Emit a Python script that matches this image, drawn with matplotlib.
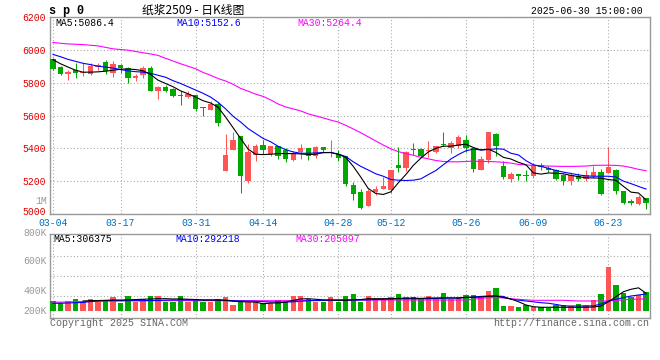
import numpy as np
import matplotlib
matplotlib.use('Agg')
import matplotlib.pyplot as plt
from matplotlib.transforms import ScaledTranslation

plt.rcParams['font.family'] = ['Liberation Mono', 'DejaVu Sans']

# trading days 2025-03-04 .. 2025-06-30
dates = ['03-04', '03-05', '03-06', '03-07', '03-10', '03-11', '03-12', '03-13', '03-14', '03-17',
         '03-18', '03-19', '03-20', '03-21', '03-24', '03-25', '03-26', '03-27', '03-28', '03-31',
         '04-01', '04-02', '04-03', '04-07', '04-08', '04-09', '04-10', '04-11', '04-14', '04-15',
         '04-16', '04-17', '04-18', '04-21', '04-22', '04-23', '04-24', '04-25', '04-28', '04-29',
         '04-30', '05-06', '05-07', '05-08', '05-09', '05-12', '05-13', '05-14', '05-15', '05-16',
         '05-19', '05-20', '05-21', '05-22', '05-23', '05-26', '05-27', '05-28', '05-29', '05-30',
         '06-03', '06-04', '06-05', '06-06', '06-09', '06-10', '06-11', '06-12', '06-13', '06-16',
         '06-17', '06-18', '06-19', '06-20', '06-23', '06-24', '06-25', '06-26', '06-27', '06-30']
tick_dates = ['03-04', '03-17', '03-31', '04-14', '04-28', '05-12', '05-26', '06-09', '06-23']

open_ = [5944, 5897, 5852, 5879, 5858, 5853, 5893, 5923, 5860, 5908,
         5889, 5830, 5848, 5889, 5747, 5771, 5759, 5722, 5713, 5722,
         5652, 5636, 5672, 5261, 5388, 5478, 5200, 5362, 5423, 5368,
         5417, 5388, 5328, 5376, 5399, 5352, 5407, 5374, 5368, 5356,
         5176, 5133, 5048, 5133, 5154, 5147, 5301, 5281, 5394, 5397,
         5386, 5378, 5427, 5403, 5417, 5453, 5403, 5271, 5328, 5490,
         5295, 5216, 5245, 5235, 5230, 5301, 5281, 5265, 5235, 5200,
         5230, 5214, 5230, 5257, 5247, 5265, 5143, 5078, 5058, 5099]
high = [5950, 5900, 5880, 5919, 5917, 5917, 5919, 5937, 5931, 5916,
        5895, 5852, 5899, 5899, 5777, 5787, 5767, 5747, 5751, 5727,
        5652, 5690, 5680, 5490, 5498, 5478, 5429, 5429, 5453, 5417,
        5417, 5403, 5386, 5429, 5399, 5415, 5407, 5449, 5390, 5356,
        5194, 5154, 5155, 5170, 5224, 5271, 5406, 5382, 5431, 5400,
        5443, 5413, 5498, 5447, 5484, 5484, 5407, 5352, 5500, 5494,
        5321, 5255, 5245, 5271, 5311, 5311, 5292, 5275, 5241, 5251,
        5251, 5265, 5290, 5275, 5407, 5275, 5143, 5090, 5115, 5099]
low = [5876, 5846, 5814, 5826, 5838, 5848, 5879, 5855, 5832, 5858,
       5798, 5812, 5828, 5747, 5702, 5741, 5714, 5662, 5707, 5630,
       5595, 5635, 5534, 5261, 5388, 5125, 5190, 5321, 5368, 5355,
       5336, 5315, 5321, 5332, 5328, 5342, 5375, 5348, 5324, 5170,
       5083, 5028, 5048, 5115, 5154, 5130, 5253, 5261, 5359, 5350,
       5346, 5372, 5413, 5372, 5403, 5376, 5255, 5265, 5310, 5356,
       5214, 5194, 5210, 5200, 5220, 5270, 5255, 5208, 5174, 5176,
       5200, 5200, 5220, 5115, 5247, 5119, 5058, 5052, 5052, 5028]
close = [5883, 5850, 5862, 5858, 5866, 5900, 5906, 5869, 5915, 5890,
         5828, 5838, 5889, 5747, 5775, 5752, 5716, 5716, 5729, 5641,
         5643, 5672, 5552, 5362, 5453, 5230, 5376, 5417, 5392, 5415,
         5356, 5332, 5372, 5399, 5352, 5407, 5390, 5378, 5342, 5180,
         5119, 5034, 5143, 5155, 5170, 5265, 5281, 5380, 5390, 5356,
         5392, 5413, 5419, 5433, 5467, 5403, 5273, 5332, 5498, 5413,
         5224, 5241, 5230, 5230, 5301, 5287, 5265, 5214, 5200, 5237,
         5214, 5237, 5257, 5119, 5287, 5139, 5068, 5070, 5103, 5064]

ma5 = [5940, 5915, 5895, 5876, 5864, 5864, 5866, 5870, 5876, 5882,
       5883, 5880, 5872, 5850, 5815, 5795, 5775, 5750, 5732, 5712,
       5690, 5676, 5650, 5590, 5525, 5460, 5395, 5364, 5362, 5364,
       5368, 5368, 5368, 5366, 5362, 5364, 5374, 5374, 5364, 5345,
       5290, 5225, 5155, 5125, 5119, 5135, 5190, 5240, 5296, 5340,
       5378, 5400, 5413, 5413, 5420, 5425, 5405, 5390, 5395, 5375,
       5345, 5335, 5315, 5300, 5250, 5243, 5250, 5248, 5245, 5235,
       5228, 5220, 5220, 5218, 5210, 5205, 5168, 5133, 5128, 5086]
ma10 = [5972, 5958, 5942, 5930, 5918, 5910, 5900, 5895, 5889, 5880,
        5872, 5867, 5864, 5857, 5845, 5833, 5812, 5795, 5775, 5755,
        5735, 5712, 5680, 5640, 5595, 5560, 5520, 5490, 5460, 5440,
        5412, 5392, 5378, 5370, 5370, 5372, 5374, 5375, 5365, 5350,
        5318, 5290, 5268, 5245, 5230, 5210, 5206, 5204, 5206, 5214,
        5240, 5265, 5300, 5335, 5362, 5385, 5395, 5390, 5393, 5397,
        5395, 5370, 5360, 5325, 5300, 5290, 5278, 5265, 5255, 5247,
        5238, 5232, 5230, 5230, 5230, 5225, 5200, 5185, 5168, 5152]
ma30 = [6045, 6040, 6036, 6034, 6032, 6028, 6024, 6015, 6006, 6002,
        5998, 5990, 5982, 5975, 5966, 5948, 5932, 5915, 5900, 5885,
        5862, 5845, 5825, 5810, 5790, 5765, 5748, 5730, 5716, 5695,
        5670, 5652, 5640, 5628, 5610, 5598, 5585, 5572, 5560, 5540,
        5518, 5495, 5470, 5445, 5420, 5397, 5380, 5368, 5358, 5345,
        5336, 5326, 5320, 5318, 5318, 5320, 5322, 5320, 5320, 5318,
        5315, 5310, 5302, 5299, 5296, 5294, 5292, 5291, 5290, 5290,
        5291, 5292, 5296, 5297, 5297, 5296, 5292, 5283, 5272, 5264]

# volume, thousands of lots
volume = [170, 128, 170, 205, 170, 205, 158, 187, 233, 128,
          257, 158, 205, 257, 257, 158, 158, 257, 158, 205,
          158, 158, 205, 233, 100, 158, 158, 158, 128, 128,
          187, 158, 257, 257, 205, 158, 158, 233, 158, 257,
          292, 158, 257, 205, 205, 233, 292, 233, 233, 205,
          257, 205, 315, 205, 233, 275, 275, 233, 350, 403,
          82, 82, 58, 100, 58, 58, 52, 94, 95, 90,
          117, 100, 187, 292, 770, 450, 315, 233, 275, 333]
vol_ma5 = [np.nan, np.nan, np.nan, np.nan, 170, 175, 178, 182, 187, 187,
           190, 195, 200, 205, 210, 210, 205, 205, 200, 195,
           187, 187, 187, 180, 165, 158, 155, 150, 120, 135,
           135, 150, 180, 205, 210, 200, 190, 187, 182, 182,
           190, 195, 210, 210, 210, 210, 215, 220, 220, 215,
           222, 222, 225, 225, 222, 234, 234, 240, 250, 257,
           230, 205, 158, 100, 70, 60, 60, 60, 60, 60,
           60, 60, 65, 82, 158, 245, 332, 375, 400, 306]
vol_ma10 = [130, 130, 135, 140, 145, 160, 170, 176, 176, 176,
            176, 176, 176, 178, 180, 185, 188, 188, 188, 188,
            188, 188, 188, 185, 175, 170, 168, 165, 158, 152,
            152, 152, 155, 165, 175, 178, 180, 185, 187, 187,
            187, 187, 190, 195, 200, 205, 208, 210, 210, 210,
            212, 215, 218, 220, 222, 230, 240, 250, 257, 257,
            250, 200, 185, 170, 155, 140, 130, 110, 85, 82,
            82, 82, 85, 117, 170, 200, 230, 257, 275, 292]
vol_ma30 = [147, 150, 153, 156, 160, 163, 165, 168, 170, 172,
            175, 175, 175, 175, 175, 175, 175, 175, 175, 175,
            175, 175, 175, 175, 175, 175, 175, 175, 175, 175,
            175, 176, 176, 177, 177, 178, 178, 180, 187, 187,
            187, 187, 187, 187, 187, 187, 187, 187, 187, 187,
            187, 187, 187, 187, 187, 187, 200, 215, 228, 228,
            225, 210, 200, 190, 182, 182, 182, 182, 182, 175,
            170, 170, 170, 170, 170, 180, 190, 200, 203, 205]

RED = '#ff5555'
GREEN = '#00a800'
GRID = '#aaaaaa'
BORDER = '#999999'

W, H = 660, 360
fig = plt.figure(figsize=(W / 100, H / 100), dpi=100)
fig.patch.set_facecolor('white')


def fx(px):
    return px / W


def fy(py):
    return 1 - py / H


ax = fig.add_axes([fx(50), fy(214), fx(600), 197 / H])
vax = fig.add_axes([fx(50), fy(318.3), fx(600), 84 / H])

x = np.arange(len(dates))
o = np.array(open_, float)
c = np.array(close, float)
up = c >= o
colors = np.where(up, RED, GREEN)
ticks = [dates.index(d) for d in tick_dates]

# candles
ax.vlines(x, low, high, colors=colors, linewidth=0.75, zorder=3)
ax.bar(x, np.maximum(np.abs(c - o), 5), bottom=np.minimum(o, c), width=0.72,
       color=colors, linewidth=0, zorder=3)
ax.plot(x, ma30, color='#ff00ff', linewidth=0.8, zorder=4)
ax.plot(x, ma10, color='#0000ff', linewidth=0.8, zorder=4)
ax.plot(x, ma5, color='black', linewidth=0.8, zorder=4)

ax.set_xlim(-0.4, 79.53)
ax.set_ylim(5000, 6200)
ax.set_yticks(range(5000, 6201, 200))
ax.set_xticks(ticks)
ax.set_xticklabels(tick_dates)
ax.tick_params(length=0, labelsize=7)
ax.tick_params(axis='y', colors='#e00000', pad=3)
ax.tick_params(axis='x', colors='#0070c0', pad=2.8)
ax.grid(color=GRID, linestyle=(0, (1, 2)), linewidth=0.8, zorder=0)
# lift the bottom price label a little, as in the original
lbl = ax.get_yticklabels()[0]
lbl.set_transform(lbl.get_transform() + ScaledTranslation(0, 2 / 72, fig.dpi_scale_trans))

# volume
vax.bar(x, volume, width=0.72, color=colors, linewidth=0, zorder=3)
vax.plot(x, vol_ma30, color='#ff00ff', linewidth=0.8, zorder=4)
vax.plot(x, vol_ma10, color='#0000ff', linewidth=0.8, zorder=4)
vax.plot(x, vol_ma5, color='black', linewidth=0.8, zorder=4)
vax.set_xlim(-0.4, 79.53)
vax.set_ylim(-133, 1337)
vax.set_xticks(ticks)
vax.set_yticks([262.5, 612.5, 962.5])
vax.tick_params(length=0, labelbottom=False, labelleft=False)
vax.grid(color=GRID, linestyle=(0, (1, 2)), linewidth=0.8, zorder=0)

for a in (ax, vax):
    for s in a.spines.values():
        s.set_color(BORDER)
        s.set_linewidth(1)

# header texts
fig.text(fx(49), fy(11), 's p 0', fontsize=8.5, fontweight='bold', va='center', ha='left')
fig.text(fx(142), fy(10), '纸浆2509 - 日K线图', fontsize=8.5, va='center', ha='left',
         family=['Noto Sans CJK SC', 'DejaVu Sans'])
fig.text(fx(643), fy(11), '2025-06-30 15:00:00', fontsize=7, va='center', ha='right')

fig.text(fx(55), fy(23), 'MA5:5086.4', fontsize=7, color='black', va='center')
fig.text(fx(176), fy(23), 'MA10:5152.6', fontsize=7, color='#0000ff', va='center')
fig.text(fx(297), fy(23), 'MA30:5264.4', fontsize=7, color='#ff00ff', va='center')

fig.text(fx(53), fy(238.5), 'MA5:306375', fontsize=7, color='black', va='center')
fig.text(fx(175), fy(238.5), 'MA10:292218', fontsize=7, color='#0000ff', va='center')
fig.text(fx(295), fy(238.5), 'MA30:205097', fontsize=7, color='#ff00ff', va='center')

for lab, py in [('1M', 200.7), ('800K', 233), ('600K', 260.7), ('400K', 290.7), ('200K', 310.7)]:
    fig.text(fx(46.5), fy(py), lab, fontsize=7, color=BORDER, va='center', ha='right')

fig.text(fx(50), fy(323.5), 'Copyright 2025 SINA.COM', fontsize=7.2, color='#666666', va='center')
fig.text(fx(649), fy(323.5), 'http://finance.sina.com.cn', fontsize=7.2, color='#666666',
         va='center', ha='right')

fig.savefig('out.png', dpi=100, facecolor='white')
